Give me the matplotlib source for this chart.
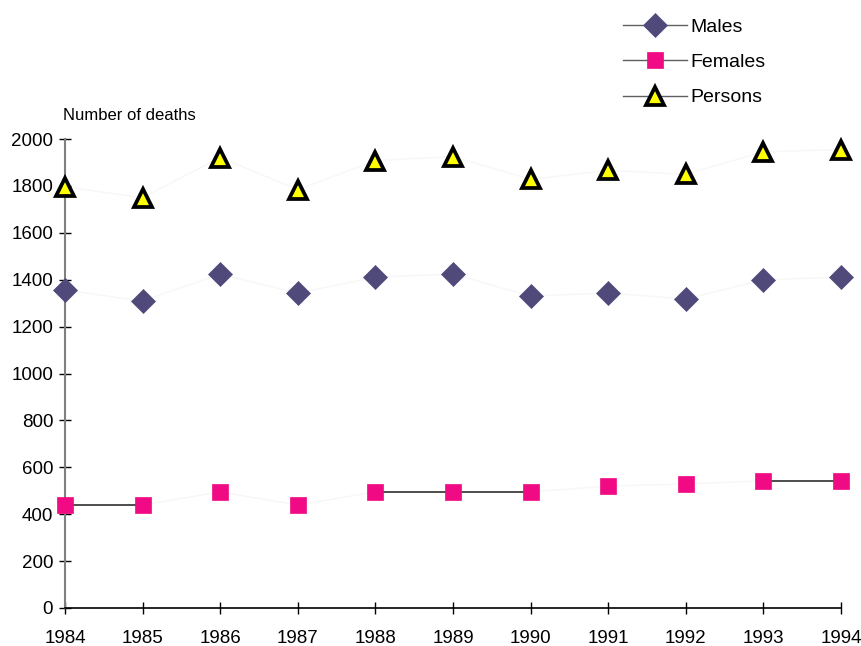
import numpy as np
import matplotlib
matplotlib.use("Agg")
import matplotlib.pyplot as plt
from matplotlib.lines import Line2D

plt.rcParams['font.family'] = ['Liberation Sans', 'DejaVu Sans']

years = [1984, 1985, 1986, 1987, 1988, 1989, 1990, 1991, 1992, 1993, 1994]
males = [1356, 1309, 1424, 1343, 1411, 1424, 1330, 1343, 1318, 1399, 1411]
females = [439, 439, 495, 439, 495, 495, 495, 520, 529, 542, 542]
persons = [1795, 1750, 1921, 1784, 1908, 1925, 1828, 1866, 1850, 1945, 1955]

fig = plt.figure(figsize=(8.62, 6.46), dpi=100)
ax = fig.add_axes([65/862, 38/646, 776/862, 469/646])

series = [
    ("Males", males, dict(marker='D', markersize=12, markerfacecolor='#4f4a7a',
                          markeredgecolor='#4f4a7a', markeredgewidth=0.5)),
    ("Females", females, dict(marker='s', markersize=12.2, markerfacecolor='#f00a84',
                              markeredgecolor='#f00a84', markeredgewidth=0.5)),
    ("Persons", persons, dict(marker='^', markersize=13, markerfacecolor='#ffff00',
                              markeredgecolor='black', markeredgewidth=2.7)),
]

handles = []
for name, vals, style in series:
    # faint connecting line, as in the original rendering
    ax.plot(years, vals, color='#f7f7f7', lw=1, zorder=2)
    # flat segments show up dark in the original
    for i in range(len(vals) - 1):
        if vals[i] == vals[i + 1]:
            ax.plot(years[i:i + 2], vals[i:i + 2], color='#404040', lw=1.3, zorder=2)
    ax.plot(years, vals, linestyle='none', clip_on=False, zorder=3, **style)
    handles.append(Line2D([], [], color='#606060', lw=1, **style))

ax.set_xlim(1984, 1994)
ax.set_ylim(0, 2000)
ax.set_xticks(years)
ax.set_yticks(np.arange(0, 2001, 200))

for s in ['top', 'right']:
    ax.spines[s].set_visible(False)
ax.spines['left'].set_color('#808080')
ax.spines['left'].set_linewidth(1.5)
ax.spines['bottom'].set_color('black')
ax.spines['bottom'].set_linewidth(1.2)

ax.tick_params(axis='both', direction='inout', length=9, width=1, labelsize=13.5,
               colors='black', pad=4)
ax.tick_params(axis='x', pad=11)

fig.text(63/862, 1 - 115/646, "Number of deaths", fontsize=12, va='center', ha='left')

fig.legend(handles=handles, labels=[s[0] for s in series], loc='upper left',
           bbox_to_anchor=(605/862, 1 - 1/646), frameon=False, fontsize=14,
           handlelength=3.3, handletextpad=0.2, labelspacing=0.9)

fig.savefig("out.png", dpi=100)
